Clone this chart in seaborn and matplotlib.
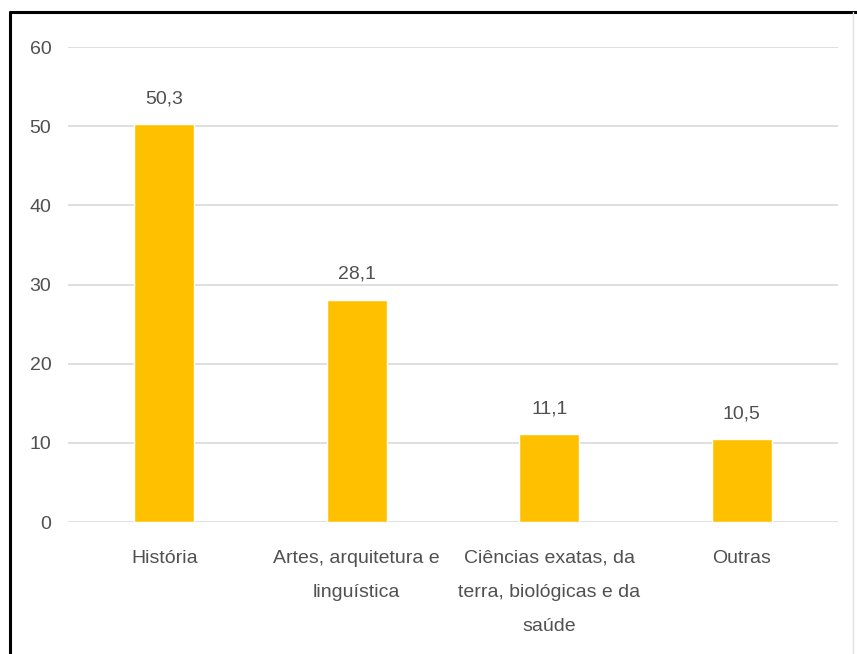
import matplotlib
matplotlib.use("Agg")
import matplotlib.pyplot as plt
from matplotlib.lines import Line2D
import seaborn as sns
import pandas as pd

categories = [
    "História",
    "Artes, arquitetura e\nlinguística",
    "Ciências exatas, da\nterra, biológicas e da\nsaúde",
    "Outras",
]
values = [50.3, 28.1, 11.1, 10.5]
value_labels = ["50,3", "28,1", "11,1", "10,5"]
yticks = [0, 10, 20, 30, 40, 50, 60]

sns.set_theme(style="white")
plt.rcParams["font.family"] = ["Liberation Sans", "DejaVu Sans"]

text_color = "#505050"
bar_color = "#FFC000"

df = pd.DataFrame({"area": categories, "pct": values})

fig = plt.figure(figsize=(8.57, 6.54), dpi=100)
ax = fig.add_axes([0.0793, 0.2018, 0.8987, 0.7262])

sns.barplot(data=df, x="area", y="pct", color=bar_color, width=0.31,
            saturation=1, ax=ax, zorder=3)

ax.set_ylim(0, 60)
ax.set_xlim(-0.5, len(categories) - 0.5)
ax.set_yticks(yticks)
ax.set_yticklabels([str(t) for t in yticks])
ax.set_xticks(range(len(categories)))
ax.set_xticklabels(categories, linespacing=2.3)
ax.yaxis.grid(True, color="#D9D9D9", linewidth=1.2, zorder=0)
ax.set_axisbelow(True)
for s in ax.spines.values():
    s.set_visible(False)
ax.set_xlabel("")
ax.set_ylabel("")
ax.tick_params(axis="y", length=0, pad=12, labelsize=14, labelcolor=text_color)
ax.tick_params(axis="x", length=0, pad=20, labelsize=14, labelcolor=text_color)

for i, (v, t) in enumerate(zip(values, value_labels)):
    ax.annotate(t, (i, v), xytext=(0, 12), textcoords="offset points",
                ha="center", va="bottom", fontsize=14, color=text_color)

# outer frame
fig.add_artist(Line2D([10 / 857, 10 / 857], [0, 1 - 12 / 654], color="black",
                      linewidth=2.2, transform=fig.transFigure))
fig.add_artist(Line2D([10 / 857, 1], [1 - 12 / 654, 1 - 12 / 654], color="black",
                      linewidth=2.2, transform=fig.transFigure))
fig.add_artist(Line2D([853 / 857, 853 / 857], [0, 1 - 12 / 654], color="#E0E0E0",
                      linewidth=1.0, transform=fig.transFigure))

fig.savefig("out.png", dpi=100, facecolor="white")
